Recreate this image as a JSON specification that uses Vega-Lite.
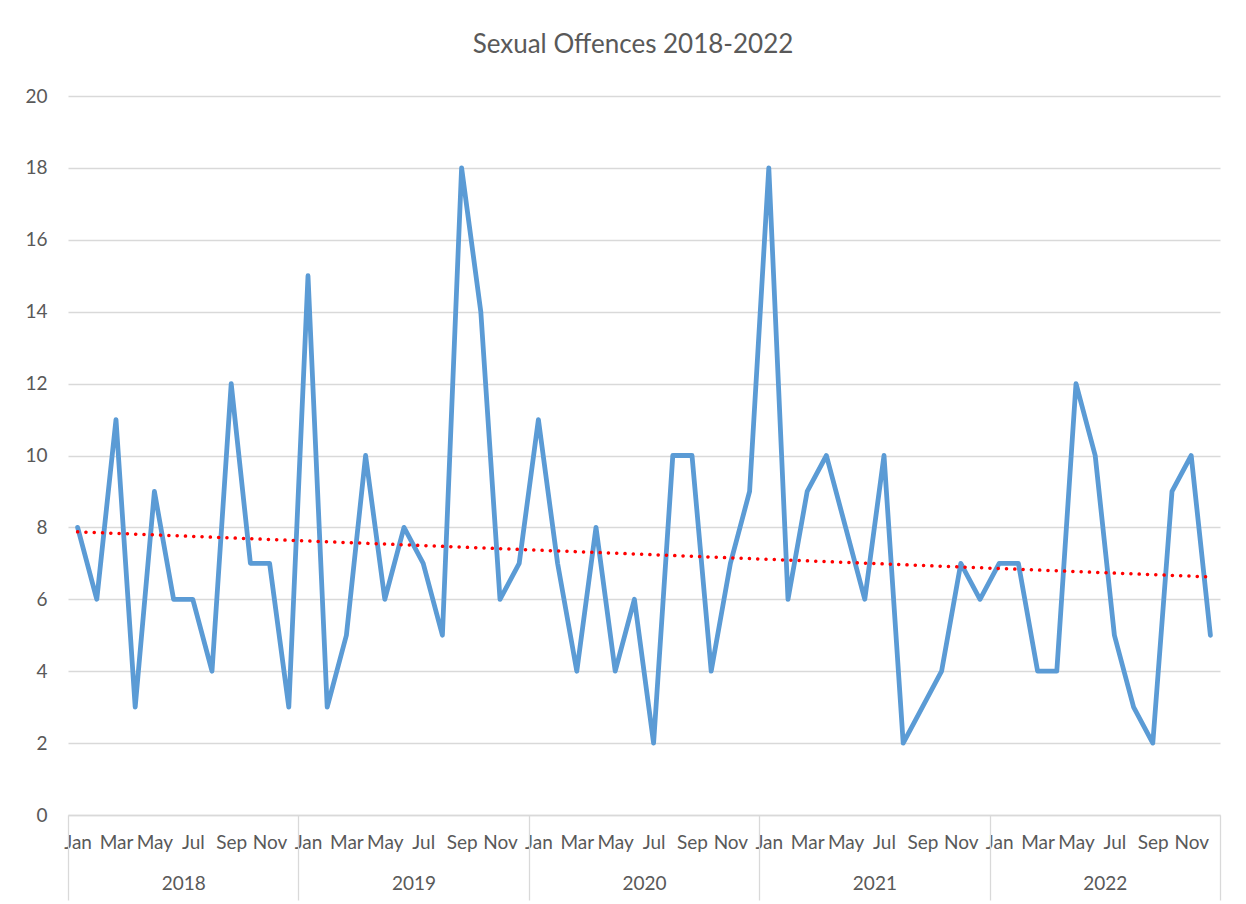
{
  "$schema": "https://vega.github.io/schema/vega-lite/v6.json",
  "width": 1152,
  "height": 719,
  "autosize": {"type": "none"},
  "padding": {"left": 68, "top": 96, "right": 26, "bottom": 89},
  "background": "white",
  "title": {
    "text": "Sexual Offences 2018-2022",
    "font": "Lato",
    "fontSize": 26,
    "fontWeight": "normal",
    "color": "#595959",
    "anchor": "middle",
    "dx": -11,
    "offset": 29
  },
  "config": {
    "view": {"stroke": null},
    "axis": {"labelFont": "Lato", "labelFontSize": 19, "labelColor": "#595959", "titleFont": "Lato"}
  },
  "data": {
    "values": [
      {"idx": 0, "year": 2018, "month": "Jan", "value": 8},
      {"idx": 1, "year": 2018, "month": "Feb", "value": 6},
      {"idx": 2, "year": 2018, "month": "Mar", "value": 11},
      {"idx": 3, "year": 2018, "month": "Apr", "value": 3},
      {"idx": 4, "year": 2018, "month": "May", "value": 9},
      {"idx": 5, "year": 2018, "month": "Jun", "value": 6},
      {"idx": 6, "year": 2018, "month": "Jul", "value": 6},
      {"idx": 7, "year": 2018, "month": "Aug", "value": 4},
      {"idx": 8, "year": 2018, "month": "Sep", "value": 12},
      {"idx": 9, "year": 2018, "month": "Oct", "value": 7},
      {"idx": 10, "year": 2018, "month": "Nov", "value": 7},
      {"idx": 11, "year": 2018, "month": "Dec", "value": 3},
      {"idx": 12, "year": 2019, "month": "Jan", "value": 15},
      {"idx": 13, "year": 2019, "month": "Feb", "value": 3},
      {"idx": 14, "year": 2019, "month": "Mar", "value": 5},
      {"idx": 15, "year": 2019, "month": "Apr", "value": 10},
      {"idx": 16, "year": 2019, "month": "May", "value": 6},
      {"idx": 17, "year": 2019, "month": "Jun", "value": 8},
      {"idx": 18, "year": 2019, "month": "Jul", "value": 7},
      {"idx": 19, "year": 2019, "month": "Aug", "value": 5},
      {"idx": 20, "year": 2019, "month": "Sep", "value": 18},
      {"idx": 21, "year": 2019, "month": "Oct", "value": 14},
      {"idx": 22, "year": 2019, "month": "Nov", "value": 6},
      {"idx": 23, "year": 2019, "month": "Dec", "value": 7},
      {"idx": 24, "year": 2020, "month": "Jan", "value": 11},
      {"idx": 25, "year": 2020, "month": "Feb", "value": 7},
      {"idx": 26, "year": 2020, "month": "Mar", "value": 4},
      {"idx": 27, "year": 2020, "month": "Apr", "value": 8},
      {"idx": 28, "year": 2020, "month": "May", "value": 4},
      {"idx": 29, "year": 2020, "month": "Jun", "value": 6},
      {"idx": 30, "year": 2020, "month": "Jul", "value": 2},
      {"idx": 31, "year": 2020, "month": "Aug", "value": 10},
      {"idx": 32, "year": 2020, "month": "Sep", "value": 10},
      {"idx": 33, "year": 2020, "month": "Oct", "value": 4},
      {"idx": 34, "year": 2020, "month": "Nov", "value": 7},
      {"idx": 35, "year": 2020, "month": "Dec", "value": 9},
      {"idx": 36, "year": 2021, "month": "Jan", "value": 18},
      {"idx": 37, "year": 2021, "month": "Feb", "value": 6},
      {"idx": 38, "year": 2021, "month": "Mar", "value": 9},
      {"idx": 39, "year": 2021, "month": "Apr", "value": 10},
      {"idx": 40, "year": 2021, "month": "May", "value": 8},
      {"idx": 41, "year": 2021, "month": "Jun", "value": 6},
      {"idx": 42, "year": 2021, "month": "Jul", "value": 10},
      {"idx": 43, "year": 2021, "month": "Aug", "value": 2},
      {"idx": 44, "year": 2021, "month": "Sep", "value": 3},
      {"idx": 45, "year": 2021, "month": "Oct", "value": 4},
      {"idx": 46, "year": 2021, "month": "Nov", "value": 7},
      {"idx": 47, "year": 2021, "month": "Dec", "value": 6},
      {"idx": 48, "year": 2022, "month": "Jan", "value": 7},
      {"idx": 49, "year": 2022, "month": "Feb", "value": 7},
      {"idx": 50, "year": 2022, "month": "Mar", "value": 4},
      {"idx": 51, "year": 2022, "month": "Apr", "value": 4},
      {"idx": 52, "year": 2022, "month": "May", "value": 12},
      {"idx": 53, "year": 2022, "month": "Jun", "value": 10},
      {"idx": 54, "year": 2022, "month": "Jul", "value": 5},
      {"idx": 55, "year": 2022, "month": "Aug", "value": 3},
      {"idx": 56, "year": 2022, "month": "Sep", "value": 2},
      {"idx": 57, "year": 2022, "month": "Oct", "value": 9},
      {"idx": 58, "year": 2022, "month": "Nov", "value": 10},
      {"idx": 59, "year": 2022, "month": "Dec", "value": 5}
    ]
  },
  "layer": [
    {
      "mark": {"type": "line", "color": "#5b9bd5", "strokeWidth": 4.8, "strokeJoin": "round", "strokeCap": "round"},
      "encoding": {
        "x": {
          "field": "idx",
          "type": "quantitative",
          "scale": {"domain": [-0.5, 59.5], "nice": false, "zero": false},
          "axis": {
            "orient": "bottom",
            "title": null,
            "values": [0, 2, 4, 6, 8, 10, 12, 14, 16, 18, 20, 22, 24, 26, 28, 30, 32, 34, 36, 38, 40, 42, 44, 46, 48, 50, 52, 54, 56, 58],
            "labelExpr": "['Jan','Feb','Mar','Apr','May','Jun','Jul','Aug','Sep','Oct','Nov','Dec'][datum.value % 12]",
            "ticks": false,
            "grid": false,
            "domain": true,
            "domainColor": "#d9d9d9",
            "domainWidth": 1.3,
            "labelPadding": 18,
            "labelFlush": false,
            "labelOverlap": false,
            "labelBound": false
          }
        },
        "y": {
          "field": "value",
          "type": "quantitative",
          "scale": {"domain": [0, 20], "nice": false},
          "axis": {
            "title": null,
            "values": [0, 2, 4, 6, 8, 10, 12, 14, 16, 18, 20],
            "ticks": false,
            "domain": false,
            "grid": true,
            "gridColor": "#d9d9d9",
            "gridWidth": 1.3,
            "labelPadding": 21
          }
        }
      }
    },
    {
      "transform": [{"regression": "value", "on": "idx", "method": "linear"}],
      "mark": {"type": "line", "color": "#ff0000", "strokeWidth": 3.5, "strokeCap": "round", "strokeDash": [0.1, 8.2]},
      "encoding": {
        "x": {
          "field": "idx",
          "type": "quantitative",
          "axis": {
            "orient": "bottom",
            "title": null,
            "values": [-0.5, 11.5, 23.5, 35.5, 47.5, 59.5],
            "labelExpr": "datum.value < 59 ? '' + (2018 + floor((datum.value + 0.5) / 12)) : ''",
            "labelOffset": 115.2,
            "labelAlign": "center",
            "ticks": true,
            "tickSize": 85,
            "tickColor": "#d9d9d9",
            "tickWidth": 1.3,
            "grid": false,
            "domain": false,
            "labelPadding": -26,
            "labelFlush": false,
            "labelOverlap": false,
            "labelBound": false
          }
        },
        "y": {"field": "value", "type": "quantitative"}
      }
    }
  ],
  "resolve": {"axis": {"x": "independent"}}
}
